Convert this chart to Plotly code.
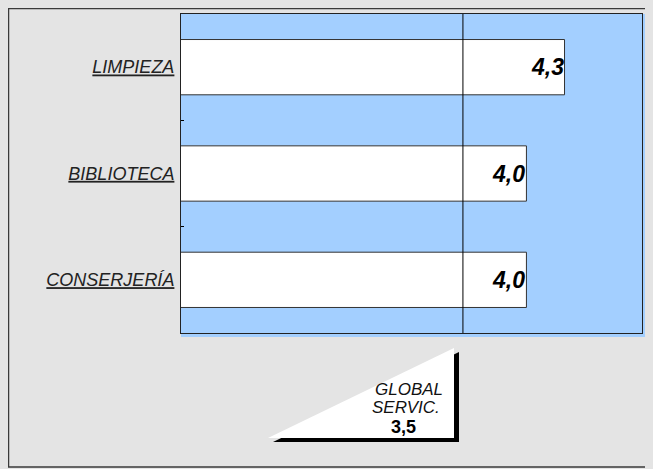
import plotly.graph_objects as go

categories = ["LIMPIEZA", "BIBLIOTECA", "CONSERJERÍA"]
values = [4.3, 4.0, 4.0]
global_label = ["GLOBAL", "SERVIC."]
global_value = 3.5

# page body has an 8px margin: the figure starts at screen (8, 8)
OFF = 8
W, H = 645, 461
L, T = 181 - OFF, 14 - OFF
R = W - (642 - OFF)
B = H - (333 - OFF)
PW, PH = W - L - R, H - T - B

def px(x):
    # screen x -> paper x
    return (x - OFF - L) / PW

def py(y):
    # screen y -> paper y
    return (H - B - (y - OFF)) / PH

def fmt(v):
    return f"{v:.1f}".replace(".", ",")

FONT = "Liberation Sans, Arial, sans-serif"
BLUE = "#a3cfff"
BG = "#e4e4e4"

fig = go.Figure()
fig.add_trace(go.Bar(
    x=values, y=categories, orientation="h",
    width=0.52,
    marker=dict(color="white", line=dict(color="#333333", width=1)),
    hoverinfo="skip",
))

shapes = [
    # outer frame
    dict(type="rect", xref="paper", yref="paper", x0=px(8.5), x1=px(700), y0=py(467), y1=py(8.5),
         line=dict(color="#3a3a3a", width=1.5), fillcolor="rgba(0,0,0,0)", layer="below"),
    # plot area light shadow
    dict(type="rect", xref="paper", yref="paper", x0=px(181), x1=px(646), y0=py(337), y1=py(14),
         line=dict(width=0), fillcolor=BLUE, layer="below"),
    # global line
    dict(type="line", xref="x", yref="paper", x0=global_value, x1=global_value, y0=0, y1=1,
         line=dict(color="black", width=1), layer="above"),
    # triangle shadow
    dict(type="path", xref="paper", yref="paper",
         path=f"M {px(273)},{py(442)} L {px(459)},{py(352)} L {px(459)},{py(442)} Z",
         fillcolor="black", line=dict(width=0), layer="above"),
    # triangle
    dict(type="path", xref="paper", yref="paper",
         path=f"M {px(268)},{py(438)} L {px(454)},{py(348)} L {px(454)},{py(438)} Z",
         fillcolor="white", line=dict(width=0), layer="above"),
]

annotations = []
for c, v in zip(categories, values):
    annotations.append(dict(
        x=v, y=c, xref="x", yref="y", xanchor="right", yanchor="middle", xshift=1,
        text=f"<b><i>{fmt(v)}</i></b>", showarrow=False,
        font=dict(family=FONT, size=23, color="black"),
    ))

annotations += [
    dict(x=px(409), y=py(389), xref="paper", yref="paper", xanchor="center", yanchor="middle",
         text=f"<i>{global_label[0]}</i>", showarrow=False,
         font=dict(family=FONT, size=17, color="#111111")),
    dict(x=px(406), y=py(407), xref="paper", yref="paper", xanchor="center", yanchor="middle",
         text=f"<i>{global_label[1]}</i>", showarrow=False,
         font=dict(family=FONT, size=17, color="#111111")),
    dict(x=px(403), y=py(427), xref="paper", yref="paper", xanchor="center", yanchor="middle",
         text=f"<b>{fmt(global_value)}</b>", showarrow=False,
         font=dict(family=FONT, size=18, color="black")),
]

fig.update_layout(
    width=W, height=H,
    margin=dict(l=L, r=R, t=T, b=B, pad=0, autoexpand=False),
    paper_bgcolor=BG,
    plot_bgcolor=BLUE,
    showlegend=False,
    shapes=shapes,
    annotations=annotations,
    xaxis=dict(range=[1.28, 4.91], showticklabels=False, ticks="", showgrid=False, zeroline=False,
               showline=True, mirror=True, linecolor="#222222", linewidth=1, automargin=False,
               fixedrange=True),
    yaxis=dict(categoryorder="array", categoryarray=categories, autorange="reversed",
               showgrid=False, zeroline=False, showline=True, mirror=True, linecolor="#222222",
               linewidth=1, ticks="inside", ticklen=3, tickcolor="black", tickson="boundaries",
               ticklabelstandoff=2, automargin=False, fixedrange=True,
               tickfont=dict(family=FONT, size=18, color="#222222", style="italic",
                             lineposition="under")),
)

fig.write_html("out.html", config={"displayModeBar": False},
               post_script=f"document.body.style.background='{BG}';")
